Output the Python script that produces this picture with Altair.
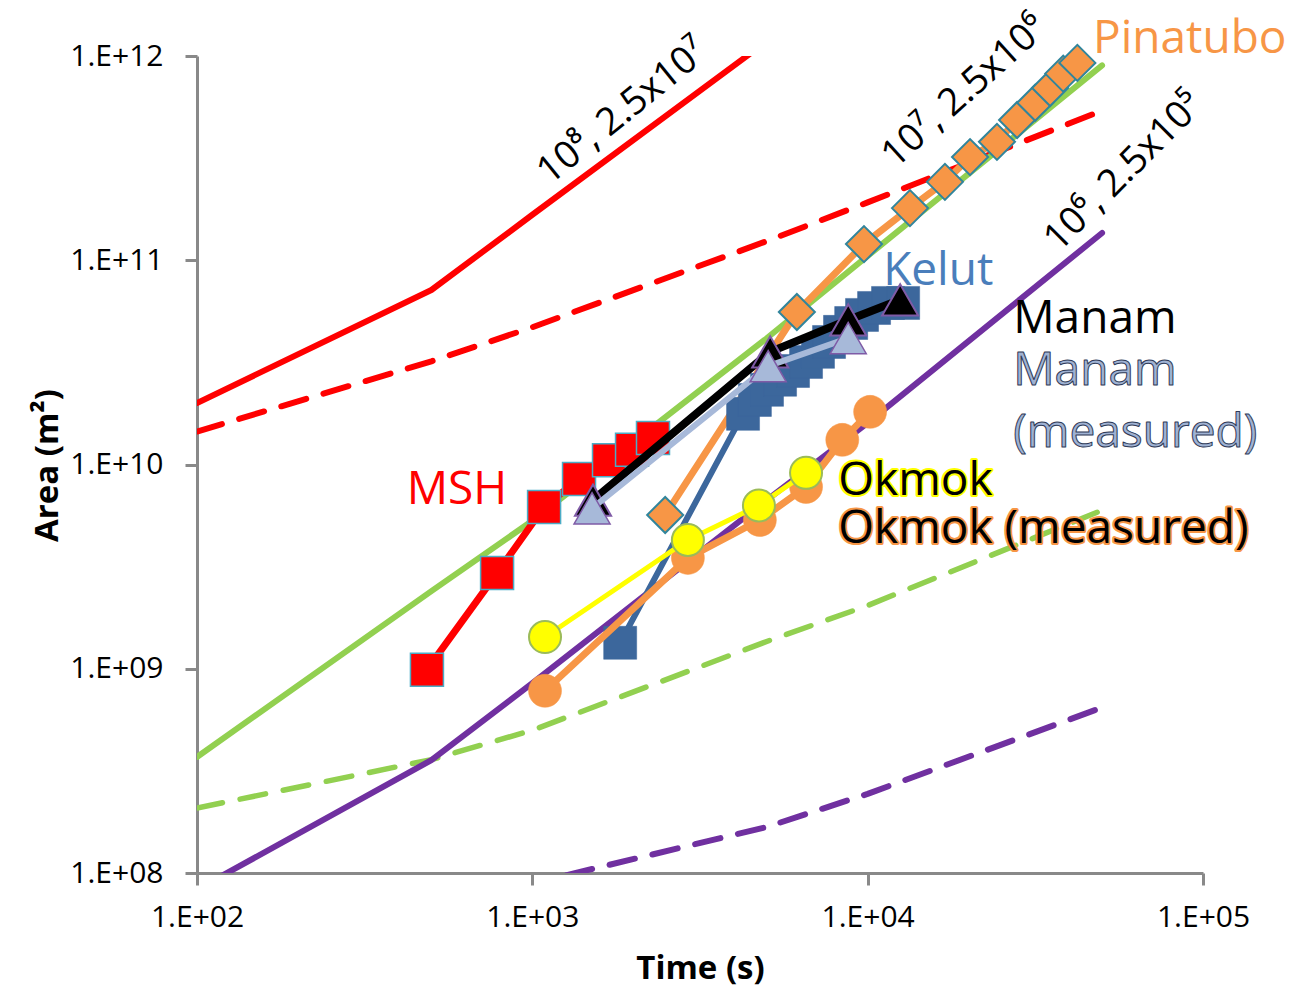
import altair as alt
import pandas as pd

# ---------------- model curves (time [s], area [m2]) ----------------
red_solid_t = [100, 500, 1000, 5000]
red_solid_a = [2.0e10, 7.15e10, 1.67e11, 1.18e12]

red_dash_t = [100, 500, 1000, 5000, 10000, 50000]
red_dash_a = [1.45e10, 3.2e10, 4.7e10, 1.24e11, 1.92e11, 5.4e11]

green_solid_t = [100, 500, 1000, 5000, 10000, 50000]
green_solid_a = [3.7e8, 2.4e9, 5.3e9, 4.15e10, 1.05e11, 9.0e11]

green_dash_t = [100, 500, 1000, 5000, 10000, 50000]
green_dash_a = [2.08e8, 3.59e8, 5.0e8, 1.36e9, 2.04e9, 5.97e9]

purple_solid_t = [100, 500, 1000, 5000, 10000, 50000]
purple_solid_a = [8.3e7, 3.57e8, 8.5e8, 6.7e9, 1.6e10, 1.36e11]

purple_dash_t = [100, 500, 1000, 5000, 10000, 50000]
purple_dash_a = [2.0e7, 5.6e7, 8.9e7, 1.68e8, 2.44e8, 6.46e8]

# ---------------- observations ----------------
msh_t = [485, 785, 1084, 1378, 1693, 1983, 2290]
msh_a = [9.9e8, 2.94e9, 6.2e9, 8.5e9, 1.05e10, 1.18e10, 1.35e10]

pina_t = [2490, 6150, 9750, 13370, 17000, 20200, 24300, 27900, 31600, 35000, 38300, 42200]
pina_a = [5.66e9, 5.58e10, 1.2e11, 1.8e11, 2.42e11, 3.2e11, 3.8e11, 4.86e11, 5.9e11, 6.97e11, 8.2e11, 9.25e11]

kelut_t = [1828, 4250, 4610, 5010, 5480, 5990, 6550, 7110, 7670, 8270, 8930, 9620, 10450, 11500, 12760]
kelut_a = [1.34e9, 1.77e10, 2.07e10, 2.32e10, 2.6e10, 2.87e10, 3.18e10, 3.56e10, 3.98e10, 4.46e10,
           4.93e10, 5.4e10, 5.84e10, 6.18e10, 6.18e10]

manam_t = [1517, 5120, 8750, 12500]
manam_a = [6.7e9, 3.56e10, 5.1e10, 6.4e10]

manam_meas_t = [1507, 5050, 8750]
manam_meas_a = [6.1e9, 3.03e10, 4.16e10]

okmok_t = [1091, 2910, 4740, 6550]
okmok_a = [1.43e9, 4.27e9, 6.3e9, 9.1e9]

okmok_meas_t = [1091, 2910, 4770, 6550, 8400, 10170]
okmok_meas_a = [7.8e8, 3.49e9, 5.35e9, 7.77e9, 1.32e10, 1.81e10]

x_ticks = [100, 1000, 10000, 100000]
y_ticks = [1e8, 1e9, 1e10, 1e11, 1e12]

FONT = "Open Sans"

xscale = alt.Scale(type="log", domain=[100, 100000], nice=False)
yscale = alt.Scale(type="log", domain=[1e8, 1e12], nice=False)

xaxis = alt.Axis(
    values=x_ticks,
    labelExpr="'1.E+0' + round(log(datum.value)/LN10)",
    grid=False, domainColor="#898989", domainWidth=3, tickColor="#898989",
    tickWidth=3, tickSize=12, labelFont=FONT, labelFontSize=30, labelColor="black",
    labelPadding=17, labelFlush=False, labelOverlap=False,
    titleFont=FONT, titleFontSize=33, titleFontWeight="bold", titleColor="black",
    titleX=503, titleY=95, titleBaseline="middle", titleAlign="center",
)
yaxis = alt.Axis(
    values=y_ticks,
    labelExpr="'1.E+' + (round(log(datum.value)/LN10) < 10 ? '0' : '') + round(log(datum.value)/LN10)",
    grid=False, domainColor="#898989", domainWidth=3, tickColor="#898989",
    tickWidth=3, tickSize=12, labelFont=FONT, labelFontSize=30, labelColor="black",
    labelPadding=22, labelFlush=False, labelOverlap=False,
    titleFont=FONT, titleFontSize=33, titleFontWeight="bold", titleColor="black",
    titleX=-150, titleY=409, titleAngle=270, titleBaseline="middle", titleAlign="center",
)


def df(t, a):
    return pd.DataFrame({"t": t, "a": a})


def enc(chart):
    return chart.encode(
        x=alt.X("t:Q", scale=xscale, axis=xaxis, title="Time (s)"),
        y=alt.Y("a:Q", scale=yscale, axis=yaxis, title="Area (m²)"),
    )


def line(t, a, color, width, dash=None):
    kw = dict(color=color, strokeWidth=width, clip=True, strokeCap="round", strokeJoin="round")
    if dash:
        kw["strokeDash"] = dash
    return enc(alt.Chart(df(t, a)).mark_line(**kw))


def points(t, a, shape, size, fill, stroke, sw):
    return enc(alt.Chart(df(t, a)).mark_point(
        shape=shape, size=size, filled=True, fill=fill, stroke=stroke,
        strokeWidth=sw, opacity=1))


def label(t, a, text, color, size, align="left", baseline="alphabetic", angle=0,
          stroke=None, sw=0, weight="normal"):
    kw = dict(text=text, color=color, fill=color, font=FONT, fontSize=size, align=align,
              baseline=baseline, angle=angle, fontWeight=weight)
    if stroke:
        kw["stroke"] = stroke
        kw["strokeWidth"] = sw
        kw["strokeJoin"] = "round"
    return enc(alt.Chart(df([t], [a])).mark_text(**kw))


RED = "#ff0000"
GREEN = "#92d050"
PURPLE = "#7030a0"
ORANGE = "#f79646"
KBLUE = "#3c679c"
LBLUE = "#a7b9d9"

layers = [
    line(red_solid_t, red_solid_a, RED, 6),
    line(red_dash_t, red_dash_a, RED, 6, dash=[26, 18]),
    line(green_solid_t, green_solid_a, GREEN, 6),
    line(green_dash_t, green_dash_a, GREEN, 5.5, dash=[26, 18]),
    line(purple_solid_t, purple_solid_a, PURPLE, 6),
    line(purple_dash_t, purple_dash_a, PURPLE, 6, dash=[26, 18]),
    # MSH
    line(msh_t, msh_a, RED, 7),
    points(msh_t, msh_a, "square", 1089, RED, "#4bacc6", 1.5),
    # Pinatubo
    line(pina_t, pina_a, ORANGE, 7),
    points(pina_t, pina_a, "diamond", 1300, ORANGE, "#31859c", 2),
    # Kelut
    line(kelut_t, kelut_a, KBLUE, 6),
    points(kelut_t, kelut_a, "square", 1089, KBLUE, KBLUE, 0.5),
    # Okmok measured
    line(okmok_meas_t, okmok_meas_a, ORANGE, 7),
    points(okmok_meas_t, okmok_meas_a, "circle", 1089, ORANGE, ORANGE, 0.5),
    # Okmok
    line(okmok_t, okmok_a, "#ffff00", 5),
    points(okmok_t, okmok_a, "circle", 1024, "#ffff00", "#9bbb59", 2),
    # Manam
    line(manam_t, manam_a, "black", 8),
    points(manam_t, manam_a, "triangle-up", 1300, "black", "#7f5ba6", 2),
    # Manam measured
    line(manam_meas_t, manam_meas_a, LBLUE, 6),
    points(manam_meas_t, manam_meas_a, "triangle-up", 1300, LBLUE, "#7f5ba6", 1.5),
    # labels
    label(596, 7.5e9, "MSH", RED, 46, align="center", baseline="middle"),
    label(11120, 7.57e10, "Kelut", "#4a7ebb", 46),
    label(47000, 1.034e12, "Pinatubo", ORANGE, 46),
    label(27170, 4.41e10, "Manam", "black", 46),
    label(27170, 2.45e10, "Manam", "#9fb2d3", 46, stroke="#2f3a57", sw=1),
    label(27170, 1.22e10, "(measured)", "#9fb2d3", 46, stroke="#2f3a57", sw=1),
    label(8170, 7.1e9, "Okmok", "#ffff00", 46, stroke="#ffff00", sw=4),
    label(8170, 7.1e9, "Okmok", "black", 46),
    label(8170, 4.13e9, "Okmok (measured)", ORANGE, 46, stroke=ORANGE, sw=4),
    label(8170, 4.13e9, "Okmok (measured)", "black", 46),
    label(1865, 5.32e11, "10⁸, 2.5x10⁷", "black", 38, align="center", baseline="middle", angle=321),
    label(19500, 6.67e11, "10⁷, 2.5x10⁶", "black", 38, align="center", baseline="middle", angle=318),
    label(58200, 2.7e11, "10⁶, 2.5x10⁵", "black", 38, align="center", baseline="middle", angle=315),
]

chart = alt.layer(*layers).properties(
    width=1006,
    height=817,
    padding={"left": 189, "top": 48, "right": 90, "bottom": 116},
    autosize=alt.AutoSizeParams(type="none"),
    background="white",
).configure_view(stroke=None)

chart.save("out.html", embed_options={"renderer": "svg", "actions": False})
